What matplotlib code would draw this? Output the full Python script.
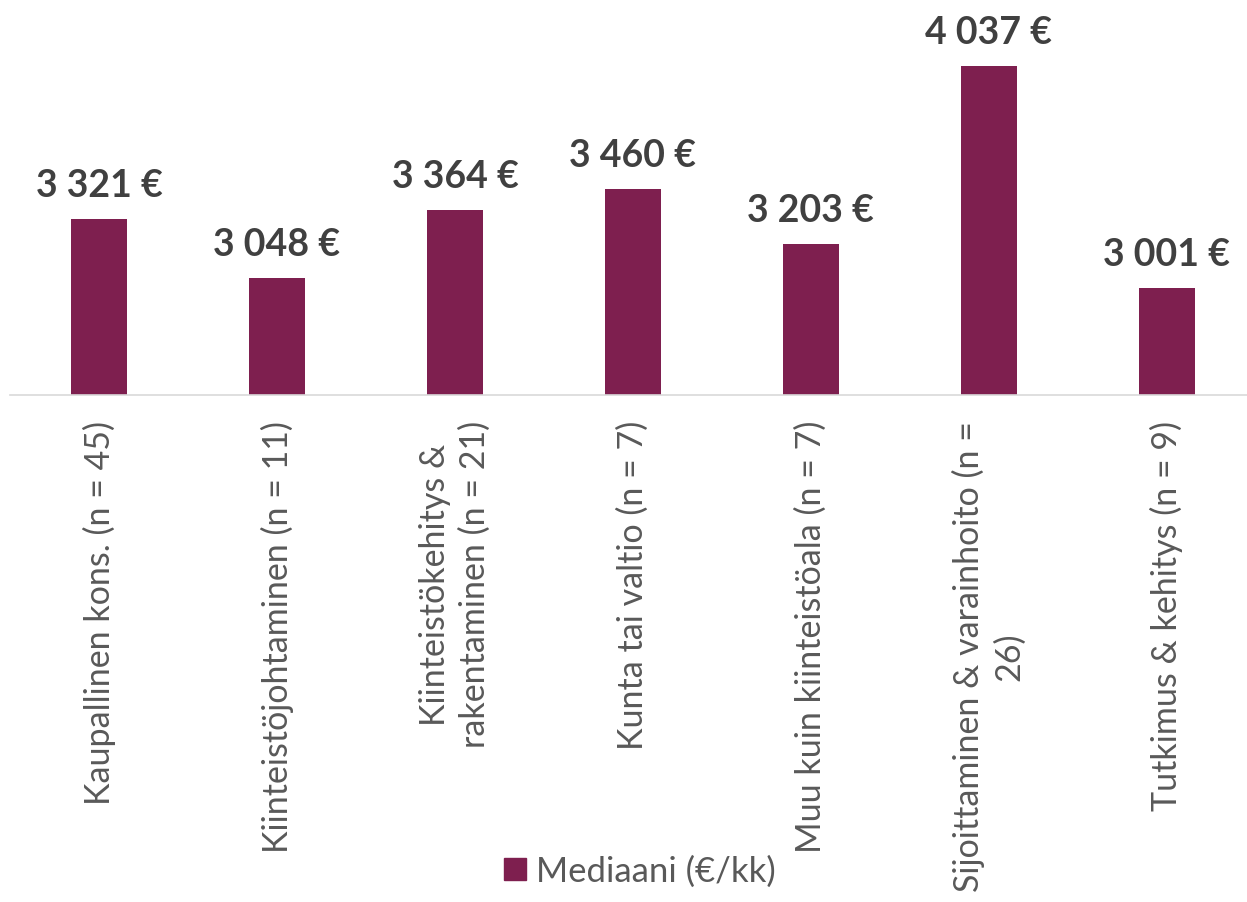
import matplotlib.pyplot as plt
from matplotlib.patches import Patch

# category names (with the line breaks seen in the chart) and medians in €/kk
categories = [
    "Kaupallinen kons. (n = 45)",
    "Kiinteistöjohtaminen (n = 11)",
    "Kiinteistökehitys &\nrakentaminen (n = 21)",
    "Kunta tai valtio (n = 7)",
    "Muu kuin kiinteistöala (n = 7)",
    "Sijoittaminen & varainhoito (n =\n26)",
    "Tutkimus & kehitys (n = 9)",
]
medians = [3321, 3048, 3364, 3460, 3203, 4037, 3001]
series_name = "Mediaani (€/kk)"

bar_color = "#7E1F4F"
W, H = 1247, 903

plt.rcParams["font.family"] = ["Lato", "DejaVu Sans"]

fig = plt.figure(figsize=(W / 100, H / 100), dpi=100)
# baseline sits at pixel 396 from top, axes runs to the top edge
ax = fig.add_axes([10 / W, (H - 396) / H, (W - 10) / W, 396 / H])

x = list(range(len(categories)))
ax.bar(x, medians, width=0.315, color=bar_color, zorder=2)

ax.set_xlim(-0.5, 6.45)
ax.set_ylim(2500, 2500 + 396 / 0.2143)

# value labels above the bars
for xi, v in zip(x, medians):
    txt = f"{v:,}".replace(",", " ") + " €"
    ax.annotate(txt, (xi, v), xytext=(0, 16.5), textcoords="offset points",
                ha="center", va="baseline", fontsize=27, fontweight="bold",
                color="#404040")

ax.set_xticks(x)
ax.set_xticklabels(categories, rotation=90, ha="center", va="top",
                   multialignment="center", fontsize=24.5, color="#595959",
                   linespacing=1.3)
ax.tick_params(axis="x", length=0, pad=18)
ax.set_yticks([])

for s in ["top", "right", "left"]:
    ax.spines[s].set_visible(False)
ax.spines["bottom"].set_color("#D9D9D9")
ax.spines["bottom"].set_linewidth(1.2)

fig.legend(handles=[Patch(color=bar_color, label=series_name)],
           loc="center", bbox_to_anchor=(640 / W, 31 / H), frameon=False,
           fontsize=25, handlelength=0.62, handleheight=0.62,
           handletextpad=0.3, labelcolor="#595959")

fig.savefig("out.png", dpi=100)
